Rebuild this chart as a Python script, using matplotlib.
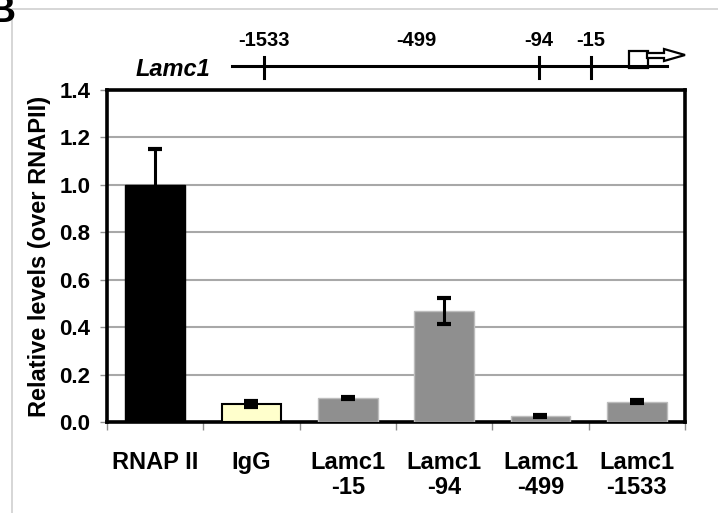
import numpy as np
import matplotlib
matplotlib.use("Agg")
import matplotlib.pyplot as plt
from matplotlib.patches import Polygon, Rectangle

plt.rcParams['font.family'] = ['Liberation Sans', 'DejaVu Sans']
plt.rcParams['font.weight'] = 'bold'

# Data
categories = ["RNAP II", "IgG", "Lamc1\n-15", "Lamc1\n-94", "Lamc1\n-499", "Lamc1\n-1533"]
values = [1.0, 0.075, 0.10, 0.47, 0.025, 0.085]
errors = [0.15, 0.013, 0.005, 0.055, 0.005, 0.006]
bar_colors = ["#000000", "#FFFFCC", "#8F8F8F", "#8F8F8F", "#8F8F8F", "#8F8F8F"]
edge_colors = ["#000000", "#000000", "#BDBDBD", "#BDBDBD", "#BDBDBD", "#BDBDBD"]
yticks = [0.0, 0.2, 0.4, 0.6, 0.8, 1.0, 1.2, 1.4]

# gene diagram (promoter sites, drawn as a schematic)
site_labels = ["-1533", "-499", "-94", "-15"]
site_x = [264, 416, 539, 591]
site_has_tick = [True, False, True, True]

fig = plt.figure(figsize=(7.18, 5.13), dpi=100)
ax = fig.add_axes([107 / 718, 1 - 422 / 513, 578 / 718, 332 / 513])

x = np.arange(len(categories))
ax.bar(x, values, width=0.62, color=bar_colors, edgecolor=edge_colors,
       linewidth=[1, 1.5, 1, 1, 1, 1], zorder=3)
ax.errorbar(x, values, yerr=errors, fmt='none', ecolor='black',
            elinewidth=2.2, capsize=5, capthick=3, zorder=4)

ax.set_xlim(-0.5, len(categories) - 0.5)
ax.set_ylim(0, 1.4)
ax.set_yticks(yticks)
ax.set_yticklabels([f"{v:.1f}" for v in yticks], fontsize=16, fontweight='bold')
ax.yaxis.grid(True, color='#A8A8A8', linewidth=1.5, zorder=0)
ax.set_axisbelow(True)

ax.set_xticks(x)
ax.set_xticklabels(categories, fontsize=17, fontweight='bold', linespacing=1.1)
ax.tick_params(axis='x', which='major', length=0, pad=21)
ax.set_xticks(np.arange(len(categories) + 1) - 0.5, minor=True)
ax.tick_params(axis='x', which='minor', length=6, color='#909090', width=1)
ax.tick_params(axis='y', length=5, color='#909090', width=1, pad=7)

for s in ax.spines.values():
    s.set_linewidth(2.6)
    s.set_color('black')

ax.set_ylabel("Relative levels (over RNAPII)", fontsize=17, fontweight='bold', labelpad=6)

# overlay in pixel coordinates for the gene schematic and frame
ov = fig.add_axes([0, 0, 1, 1], zorder=-1)
ov.set_xlim(0, 718)
ov.set_ylim(513, 0)
ov.axis('off')
ov.patch.set_alpha(0)

ov.plot([12, 12, 718], [513, 9, 9], color='#D0D0D0', linewidth=1.2)
ov.text(-13, 12, "B", fontsize=28, fontweight='bold', va='center', ha='left')

ov.text(210, 70, "Lamc1", fontsize=17, fontweight='bold', style='italic',
        ha='right', va='center')
ov.plot([232, 667], [66, 66], color='black', linewidth=2.2)
for lab, sx, tk in zip(site_labels, site_x, site_has_tick):
    ov.text(sx, 40, lab, fontsize=14.5, fontweight='bold', ha='center', va='center')
    if tk:
        ov.plot([sx, sx], [57, 78], color='black', linewidth=2.2)

ov.add_patch(Rectangle((629, 51), 19, 17, fill=False, edgecolor='black', linewidth=1.6))
arrow = Polygon([(647, 58), (647, 53), (664, 53), (664, 49), (685, 55),
                 (664, 61), (664, 58)], closed=True, facecolor='white',
                edgecolor='black', linewidth=1.6)
ov.add_patch(arrow)

fig.savefig("out.png", dpi=100)
